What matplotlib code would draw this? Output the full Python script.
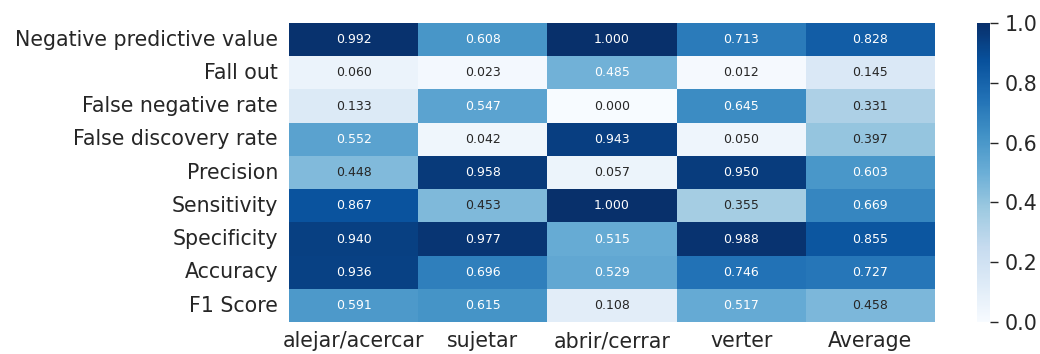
import numpy as np
import pandas as pd
import matplotlib
matplotlib.use('Agg')
import matplotlib.pyplot as plt
import seaborn as sns

metrics = ['Negative predictive value', 'Fall out', 'False negative rate',
           'False discovery rate', 'Precision', 'Sensitivity', 'Specificity',
           'Accuracy', 'F1 Score']
actions = ['alejar/acercar', 'sujetar', 'abrir/cerrar', 'verter', 'Average']

alejar = [0.992, 0.060, 0.133, 0.552, 0.448, 0.867, 0.940, 0.936, 0.591]
sujetar = [0.608, 0.023, 0.547, 0.042, 0.958, 0.453, 0.977, 0.696, 0.615]
abrir = [1.000, 0.485, 0.000, 0.943, 0.057, 1.000, 0.515, 0.529, 0.108]
verter = [0.713, 0.012, 0.645, 0.050, 0.950, 0.355, 0.988, 0.746, 0.517]
average = [0.828, 0.145, 0.331, 0.397, 0.603, 0.669, 0.855, 0.727, 0.458]

df = pd.DataFrame({'alejar/acercar': alejar, 'sujetar': sujetar,
                   'abrir/cerrar': abrir, 'verter': verter, 'Average': average},
                  index=metrics)

sns.set_theme(style='white')
plt.rcParams['font.family'] = ['DejaVu Sans']

fig = plt.figure(figsize=(10.4, 3.54), dpi=100)
ax = fig.add_axes([0.278, 0.090, 0.621, 0.845])
cax = fig.add_axes([0.939, 0.090, 0.0125, 0.845])

sns.heatmap(df, ax=ax, cbar_ax=cax, cmap='Blues', vmin=0, vmax=1,
            annot=True, fmt='.3f', annot_kws={'fontsize': 9})

ax.tick_params(axis='y', length=0, labelsize=14.8, pad=8)
ax.tick_params(axis='x', length=0, labelsize=14.8, pad=6.5)
ax.set_yticklabels(metrics, rotation=0)
ax.set_xticklabels(actions, rotation=0)
cax.tick_params(labelsize=14.8, length=6, width=1, pad=5)
cax.set_yticks([0.0, 0.2, 0.4, 0.6, 0.8, 1.0])
for s in cax.spines.values():
    s.set_visible(False)

fig.savefig('out.png', dpi=100, facecolor='white')
